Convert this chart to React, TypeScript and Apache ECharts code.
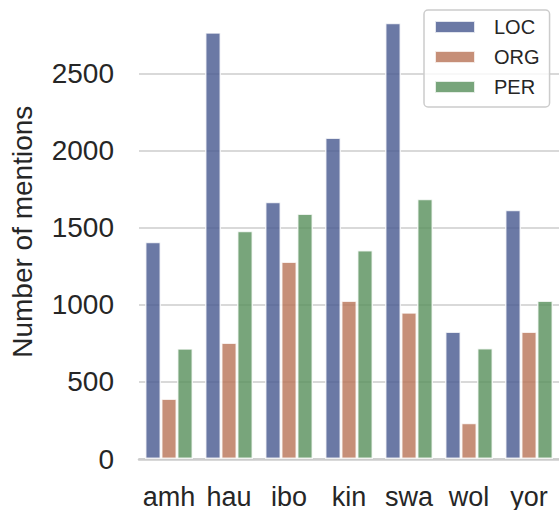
import React, { useEffect, useRef } from "react";
import * as echarts from "echarts";

const categories = ["amh", "hau", "ibo", "kin", "swa", "wol", "yor"];
const seriesNames = ["LOC", "ORG", "PER"];
const locValues = [1410, 2770, 1669, 2087, 2832, 827, 1617];
const orgValues = [393, 756, 1282, 1028, 952, 235, 827];
const perValues = [719, 1481, 1593, 1356, 1690, 721, 1028];
const colors = ["#46578e", "#b87356", "#568e5a"];

const FONT = "'Liberation Sans', Arial, sans-serif";
const TXT = "#262626";

export default function App() {
  const ref = useRef<HTMLDivElement>(null);
  useEffect(() => {
    document.body.style.margin = "0";
    if (!ref.current) return;
    const chart = echarts.init(ref.current, undefined, { renderer: "svg" });
    const data = [locValues, orgValues, perValues];
    chart.setOption({
      animation: false,
      grid: { left: 137.5, right: 0, top: 4.5, bottom: 50, containLabel: false },
      legend: {
        orient: "vertical",
        left: 424,
        top: 10,
        data: seriesNames,
        itemWidth: 40,
        itemHeight: 12,
        itemGap: 10,
        padding: [7, 10, 10, 10],
        borderColor: "#cccccc",
        borderWidth: 1.5,
        borderRadius: 4,
        backgroundColor: "rgba(255,255,255,0.8)",
        icon: "rect",
        textStyle: { fontSize: 20, lineHeight: 20, color: TXT, fontFamily: FONT, padding: [0, 0, 0, 14] },
      },
      xAxis: {
        type: "category",
        data: categories,
        axisTick: { show: false },
        axisLine: { lineStyle: { color: "#cccccc", width: 2.5 } },
        axisLabel: { fontSize: 27, color: TXT, fontFamily: FONT, margin: 24, interval: 0 },
      },
      yAxis: {
        type: "value",
        min: 0,
        max: 2950,
        interval: 500,
        name: "Number of mentions",
        nameLocation: "middle",
        nameGap: 103,
        nameTextStyle: { fontSize: 28, color: TXT, fontFamily: FONT },
        axisLine: { show: false },
        axisTick: { show: false },
        axisLabel: {
          fontSize: 28,
          color: TXT,
          fontFamily: FONT,
          margin: 25,
          showMaxLabel: false,
          formatter: (v: number) => String(v),
        },
        splitLine: { showMaxLine: false, lineStyle: { color: "#cccccc", width: 1.5 } },
      },
      series: seriesNames.map((name, i) => ({
        name,
        type: "bar",
        data: data[i],
        barGap: "0%",
        barCategoryGap: "20%",
        itemStyle: { color: colors[i], opacity: 0.8, borderColor: "#ffffff", borderWidth: 1.5 },
      })),
    });
    return () => chart.dispose();
  }, []);
  return <div ref={ref} style={{ width: 559, height: 510 }} />;
}
